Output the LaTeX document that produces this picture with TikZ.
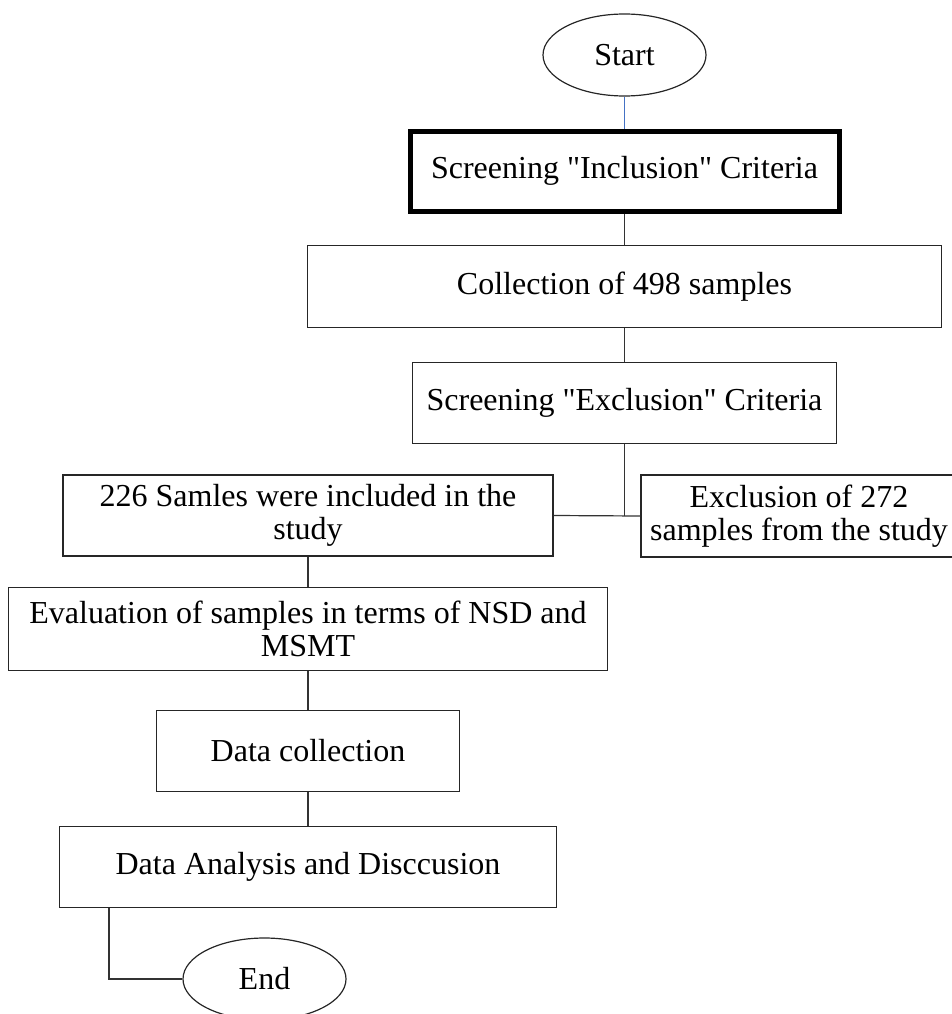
\documentclass[tikz,border=0pt]{standalone}
\usepackage{fontspec}
\setmainfont{Liberation Serif}
\usepackage{xcolor}
\usepackage{tikz}
\usetikzlibrary{shapes.geometric,positioning}
\definecolor{linkblue}{RGB}{68,114,196}

\begin{document}
\begin{tikzpicture}[x=1pt, y=-1pt, font=\fontsize{32}{33}\selectfont, line width=1.2pt,
		box/.style={draw=black!85, rectangle, inner sep=0pt, align=center},
		term/.style={draw=black!85, ellipse, inner sep=0pt, minimum width=163pt, minimum height=82pt}]
				\useasboundingbox (0,0) rectangle (951,1014);

				\node[term] at (624.5,55) (start)												{Start};
				\node[box, line width=5pt, draw=black, minimum width=429pt, minimum height=80pt, below=32pt of start] (incl)	{Screening \textquotedbl Inclusion\textquotedbl{} Criteria};
				\node[box, minimum width=634pt, minimum height=82pt, below=31pt of incl] (coll)			{Collection of 498 samples};
				\node[box, minimum width=424pt, minimum height=81pt, below=34pt of coll] (excl)			{Screening \textquotedbl Exclusion\textquotedbl{} Criteria};
				\node[box, minimum width=490pt, minimum height=81pt] at (308,515.5) (incd)				{226 Samles were included in the\\study};
				\node[box, minimum width=316pt, minimum height=82pt] at (799,516) (exd)					{Exclusion of 272\\samples from the study};
				\node[box, minimum width=599pt, minimum height=83pt, below=30pt of incd] (eval)			{Evaluation of samples in terms of NSD and\\MSMT};
				\node[box, minimum width=303pt, minimum height=81pt, below=39pt of eval] (dcol)			{Data collection};
				\node[box, minimum width=497pt, minimum height=81pt, below=34pt of dcol] (dana)			{Data Analysis and Disccusion};
				\node[term] at (264.5,979) (endn)												{End};

				\coordinate (split) at (excl.south |- incd.east);
				\coordinate (turn) at ([xshift=50pt]dana.south west);

				\draw[linkblue] (start) -- (incl);
				\draw[black!80]
					(incl) edge (coll)
					(coll) edge (excl)
					(excl.south) edge (split)
					(incd.east) edge (exd.west)
					(incd) edge (eval)
					(eval) edge (dcol)
					(dcol) edge (dana)
					(turn) edge[to path={|- (\tikztotarget)}] (endn.west);

			\end{tikzpicture}
\end{document}
